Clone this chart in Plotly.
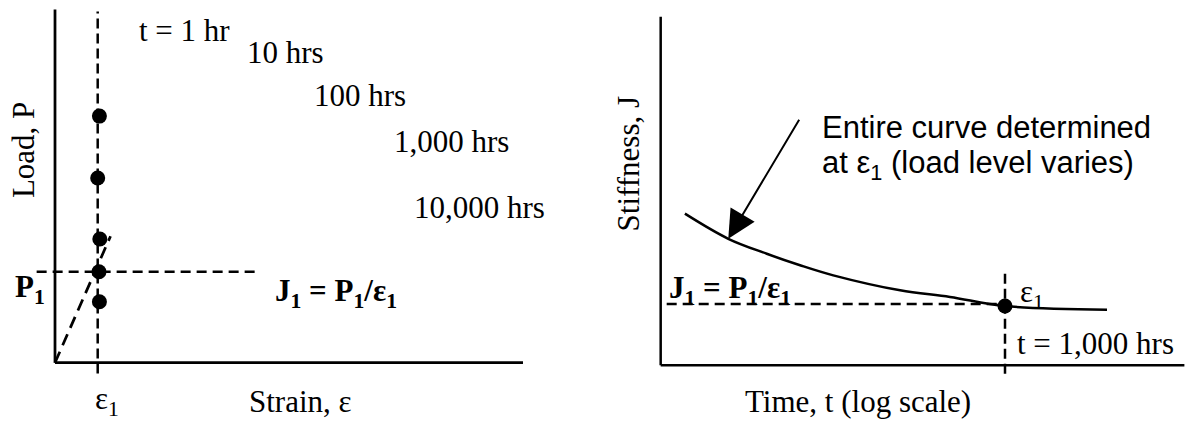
import math
import plotly.graph_objects as go

# ---------------- Left panel: isochronous load-strain schematic ----------------
eps1 = 1.0            # reference strain
P1 = 1.0              # load at eps1 (1,000 hr isochronous)
strain_axis_end = 10.96
load_axis_end = 3.88

iso_labels = ["t = 1 hr", "10 hrs", "100 hrs", "1,000 hrs", "10,000 hrs"]
iso_label_strain = [1.92, 4.45, 6.02, 7.89, 8.36]
iso_label_load = [3.65, 3.41, 2.94, 2.43, 1.71]

dot_strain = [1.04, 1.00, 1.05, 1.03, 1.04]
dot_load = [2.71, 2.03, 1.36, 1.00, 0.67]

secant_strain = [0.0, 1.30]
secant_load = [0.0, 1.39]

eps_guide_load = [-0.12, 3.86]     # vertical dashed guide at eps1
P_guide_strain = [-0.43, 4.75]     # horizontal dashed guide at P1

# ---------------- Right panel: stiffness vs time (log) ----------------
time_hrs = [1, 2.55, 5.85, 12, 24.6, 104, 305, 1000, 9040]
stiffness = [4.35, 3.63, 3.20, 2.87, 2.58, 2.15, 1.96, 1.70, 1.595]
t1 = 1000
J1_dot = 1.70
J1_line = 1.76
time_axis = [0.593, 48000]
stiff_axis_end = 10.0
t_guide_J = [-0.24, 2.77]
J_guide_time = [0.675, 1000]
arrow_tip = (2.55, 3.63)
arrow_tail = (12.0, 7.09)

SERIF = "Liberation Serif, Times New Roman, serif"
SANS = "Liberation Sans, Arial, sans-serif"
BLK = "black"
FS = 31

fig = go.Figure()

# ---- left panel traces (x, y) ----
fig.add_trace(go.Scatter(x=[0, 0], y=[0, load_axis_end], mode="lines",
                         line=dict(color=BLK, width=2.75), xaxis="x", yaxis="y"))
fig.add_trace(go.Scatter(x=[0, strain_axis_end], y=[0, 0], mode="lines",
                         line=dict(color=BLK, width=2.75), xaxis="x", yaxis="y"))
fig.add_trace(go.Scatter(x=[eps1, eps1], y=eps_guide_load, mode="lines",
                         line=dict(color=BLK, width=2.5, dash="10px,5px"), xaxis="x", yaxis="y"))
fig.add_trace(go.Scatter(x=P_guide_strain, y=[P1, P1], mode="lines",
                         line=dict(color=BLK, width=2.5, dash="10px,6px"), xaxis="x", yaxis="y"))
fig.add_trace(go.Scatter(x=secant_strain, y=secant_load, mode="lines",
                         line=dict(color=BLK, width=2.75, dash="12px,7px"), xaxis="x", yaxis="y"))
fig.add_trace(go.Scatter(x=dot_strain, y=dot_load, mode="markers",
                         marker=dict(color=BLK, size=15), xaxis="x", yaxis="y"))

# ---- right panel traces (x2, y2) ----
fig.add_trace(go.Scatter(x=[time_axis[0], time_axis[0]], y=[0, stiff_axis_end], mode="lines",
                         line=dict(color=BLK, width=2.5), xaxis="x2", yaxis="y2"))
fig.add_trace(go.Scatter(x=time_axis, y=[0, 0], mode="lines",
                         line=dict(color=BLK, width=2.5), xaxis="x2", yaxis="y2"))
fig.add_trace(go.Scatter(x=J_guide_time, y=[J1_line, J1_line], mode="lines",
                         line=dict(color=BLK, width=2.5, dash="10px,6px"), xaxis="x2", yaxis="y2"))
fig.add_trace(go.Scatter(x=[t1, t1], y=t_guide_J, mode="lines",
                         line=dict(color=BLK, width=2.5, dash="10px,5px"), xaxis="x2", yaxis="y2"))
fig.add_trace(go.Scatter(x=time_hrs, y=stiffness, mode="lines", line_shape="spline",
                         line=dict(color=BLK, width=2.5), xaxis="x2", yaxis="y2"))
fig.add_trace(go.Scatter(x=[t1], y=[J1_dot], mode="markers",
                         marker=dict(color=BLK, size=15), xaxis="x2", yaxis="y2"))

ann = []
def txt(x, y, text, xref, yref, font=SERIF, size=FS, xanchor="left", angle=0):
    ann.append(dict(x=x, y=y, xref=xref, yref=yref, text=text, showarrow=False,
                    xanchor=xanchor, yanchor="middle", textangle=angle,
                    font=dict(family=font, size=size, color=BLK)))

for lab, xs, ys in zip(iso_labels, iso_label_strain, iso_label_load):
    txt(xs, ys, lab, "x", "y")
txt(5.105, 0.77, "<b>J<sub>1</sub> = P<sub>1</sub>/ε<sub>1</sub></b>", "x", "y")
txt(-0.977, 0.81, "<b>P<sub>1</sub></b>", "x", "y")
txt(0.883, -0.42, "ε<sub>1</sub>", "x", "y")
txt(4.496, -0.43, "Strain, ε", "x", "y")
txt(-0.742, 2.34, "Load, P", "x", "y", xanchor="center", angle=-90)

L = math.log10
txt(L(0.293), 5.79, "Stiffness, J", "x2", "y2", xanchor="center", angle=-90)
txt(L(18.45), 6.81, "Entire curve determined", "x2", "y2", font=SANS)
txt(L(18.45), 5.75, "at ε<sub>1</sub> (load level varies)", "x2", "y2", font=SANS)
txt(L(0.675), 2.16, "<b>J<sub>1</sub> = P<sub>1</sub>/ε<sub>1</sub></b>", "x2", "y2")
txt(L(1324), 2.05, "ε<sub>1</sub>", "x2", "y2")
txt(L(1242), 0.62, "t = 1,000 hrs", "x2", "y2")
txt(L(3.51), -1.03, "Time, t (log scale)", "x2", "y2")

ann.append(dict(x=L(arrow_tip[0]), y=arrow_tip[1], ax=L(arrow_tail[0]), ay=arrow_tail[1],
                xref="x2", yref="y2", axref="x2", ayref="y2", text="", showarrow=True,
                arrowhead=2, arrowsize=2.8, arrowwidth=2, arrowcolor=BLK))

fig.update_layout(
    width=1178, height=415,
    margin=dict(l=0, r=0, t=0, b=0),
    paper_bgcolor="white", plot_bgcolor="white",
    showlegend=False,
    annotations=ann,
    xaxis=dict(domain=[0, 0.47], range=[-1.1007, 11.8656], visible=False),
    yaxis=dict(domain=[0, 1], range=[-0.6626, 3.8978], visible=False),
    xaxis2=dict(domain=[0.5, 1], type="log", range=[-0.8238, 4.6963], visible=False, anchor="y2"),
    yaxis2=dict(domain=[0, 1], range=[-1.6552, 10.2496], visible=False, anchor="x2"),
)

fig.write_html("out.html")
